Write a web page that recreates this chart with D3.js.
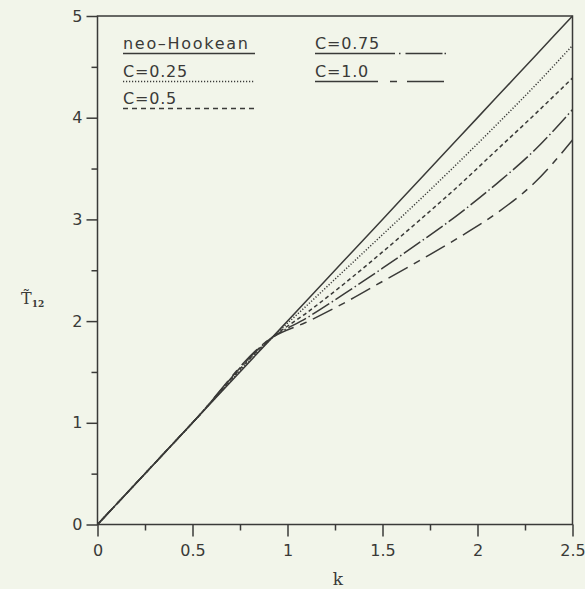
<!DOCTYPE html>
<html>
<head>
<meta charset="utf-8">
<script src="https://cdn.jsdelivr.net/npm/d3@7"></script>
<style>
  body { margin: 0; background: #f2f5ea; }
  svg { display: block; }
</style>
</head>
<body>
<div id="chart"></div>
<script>
// Sizing
const svgWidth = 585,
  svgHeight = 589;
const plotLeft = 97.5, plotRight = 572.5, plotTop = 16, plotBottom = 524.5;

// Colouring
const inkColor = "#3a3a38";
const backgroundColor = "#f2f5ea";

// Data
const kValues = [0, 0.5, 0.92, 1.1, 1.3, 1.5, 1.7, 1.9, 2.1, 2.3, 2.5];
const neoHookean = [0, 1, 1.84, 2.2, 2.6, 3.0, 3.4, 3.8, 4.2, 4.6, 5.0];
const c025 = [0, 1, 1.84, 2.15, 2.50, 2.85, 3.20, 3.56, 3.93, 4.31, 4.71];
const c050 = [0, 1, 1.84, 2.08, 2.37, 2.68, 3.00, 3.33, 3.68, 4.03, 4.39];
const c075 = [0, 1, 1.84, 2.03, 2.27, 2.52, 2.78, 3.05, 3.35, 3.68, 4.08];
const c100 = [0, 1, 1.84, 1.99, 2.18, 2.39, 2.60, 2.82, 3.06, 3.36, 3.78];

const seriesNames = ["neo\u2013Hookean", "C=0.25", "C=0.5", "C=0.75", "C=1.0"];
const seriesValues = [neoHookean, c025, c050, c075, c100];
const dashes = [null, "1.2,1.8", "4,3", "20,3,1.5,3", "22,7,7,7"];
// the legend samples are drawn with stretched patterns
const legendDashes = [null, "1.2,1.8", "5,4", "80,4,1.5,5,37,2,1.5,10", "63,12,7,10,37,20"];

// Ticks
const xTicks = [0, 0.5, 1, 1.5, 2, 2.5];
const xMinorTicks = [0.25, 0.75, 1.25, 1.75, 2.25];
const yTicks = [0, 1, 2, 3, 4, 5];
const yMinorTicks = [0.5, 1.5, 2.5, 3.5, 4.5];
const xAxisTitle = "k";

/** Create SVG */
var svg = d3.select("#chart")
  .append("svg")
  .attr("width", svgWidth)
  .attr("height", svgHeight)
  .style("background", backgroundColor);

var x = d3.scaleLinear().domain([0, 2.5]).range([plotLeft, plotRight]);
var y = d3.scaleLinear().domain([0, 5]).range([plotBottom, plotTop]);

// frame
svg.append("rect")
  .attr("x", plotLeft).attr("y", plotTop)
  .attr("width", plotRight - plotLeft).attr("height", plotBottom - plotTop)
  .attr("fill", "none")
  .attr("stroke", inkColor)
  .attr("stroke-width", 1.5);

/** X-Axis */
svg.append("g").classed("axis", true)
  .attr("transform", "translate(0," + plotBottom + ")")
  .call(d3.axisBottom(x).tickValues(xTicks).tickSize(12).tickPadding(8)
    .tickFormat(d3.format("")));
svg.append("g").classed("axis", true)
  .attr("transform", "translate(0," + plotBottom + ")")
  .call(d3.axisBottom(x).tickValues(xMinorTicks).tickSize(6).tickFormat(""));

/** Y-Axis */
svg.append("g").classed("axis", true)
  .attr("transform", "translate(" + plotLeft + ",0)")
  .call(d3.axisLeft(y).tickValues(yTicks).tickSize(11).tickPadding(4)
    .tickFormat(d3.format("")));
svg.append("g").classed("axis", true)
  .attr("transform", "translate(" + plotLeft + ",0)")
  .call(d3.axisLeft(y).tickValues(yMinorTicks).tickSize(6).tickFormat(""));

//styling
svg.selectAll(".axis").select("path").remove();
svg.selectAll(".axis").selectAll("line")
  .style("stroke", inkColor).style("stroke-width", 1.5);
svg.selectAll(".axis").selectAll("text")
  .style("fill", inkColor)
  .style("font-family", "'DejaVu Sans', sans-serif")
  .style("font-size", "16px");

// axis titles
svg.append("text")
  .attr("x", 338).attr("y", 585)
  .attr("text-anchor", "middle")
  .attr("fill", inkColor)
  .style("font-family", "'DejaVu Serif', serif")
  .style("font-size", "17px")
  .text(xAxisTitle);

var yTitle = svg.append("text")
  .attr("x", 21).attr("y", 304)
  .attr("fill", inkColor)
  .style("font-family", "'DejaVu Serif', serif")
  .style("font-size", "16px");
yTitle.append("tspan").text("T\u0303");
yTitle.append("tspan").attr("dy", 3).style("font-size", "9px").style("font-weight", "bold").text("12");

/** Curves */
var line = d3.line()
  .x((d) => x(d[0]))
  .y((d) => y(d[1]))
  .curve(d3.curveMonotoneX);

seriesValues.forEach((vals, i) => {
  svg.append("path")
    .datum(kValues.map((k, j) => [k, vals[j]]))
    .attr("d", line)
    .attr("fill", "none")
    .attr("stroke", inkColor)
    .attr("stroke-width", 1.5)
    .attr("stroke-dasharray", dashes[i]);
});

/** Legend */
var legendPos = [
  { x: 123, y: 49 }, { x: 123, y: 77 }, { x: 123, y: 104 },
  { x: 315, y: 49 }, { x: 315, y: 77 }
];
var legend = svg.append("g").classed("legend", true)
  .selectAll("g")
  .data(seriesNames)
  .enter().append("g")
  .attr("transform", (d, i) => "translate(" + legendPos[i].x + "," + legendPos[i].y + ")");

legend.append("text")
  .attr("fill", inkColor)
  .style("font-family", "'DejaVu Sans', sans-serif")
  .style("font-size", "16px")
  .style("letter-spacing", (d, i) => i === 0 ? "1.7px" : "0.8px")
  .text((d) => d);

legend.append("line")
  .attr("x1", 0).attr("x2", 132)
  .attr("y1", 4.5).attr("y2", 4.5)
  .attr("stroke", inkColor)
  .attr("stroke-width", 1.5)
  .attr("stroke-dasharray", (d, i) => legendDashes[i]);
</script>
</body>
</html>
